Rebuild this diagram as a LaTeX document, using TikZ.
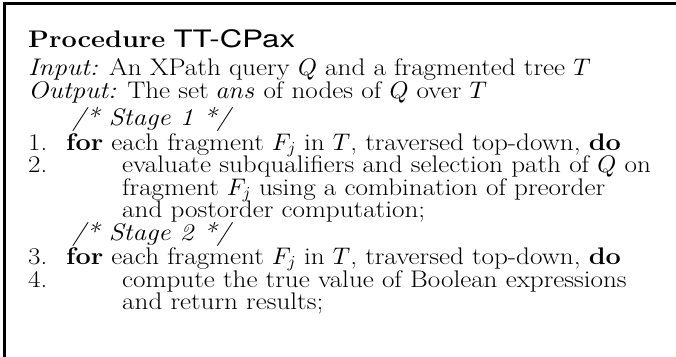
\documentclass[tikz,border=0pt]{standalone}
\usepackage{fontspec}
\setmainfont{Latin Modern Roman}[FakeStretch=1.13]
\newfontfamily\heros{TeX Gyre Heros}[FakeStretch=1.3]
\DeclareFontFamily{OML}{cmm}{\skewchar\font'177}
\DeclareFontShape{OML}{cmm}{m}{it}{<-8>cmmi7<8->cmmi10}{}
\begin{document}
\begin{tikzpicture}[x=1pt,y=-1pt,
  txt/.style={anchor=base west, inner sep=0pt, font=\fontsize{24}{24}\selectfont},
  frame/.style={line width=3pt, line cap=rect}]
\useasboundingbox (0,0) rectangle (676,356);
\coordinate (fb) at (4.5,356);
\coordinate (fc) at (4.5,3);
\coordinate (fr) at (676,3);
\draw[frame] (fb) -- (fc) -- (fr);
\node[txt] (title) at (28,47) {\textbf{Procedure} {\heros TT-CPax}};
\node[txt] (in) at (28,75) {\textit{Input:} An XPath query $Q$ and a fragmented tree $T$};
\node[txt] (out) at (28,98) {\textit{Output:} The set $ans$ of nodes of $Q$ over $T$};
\node[txt] (s1) at (72,125) {\textit{/* Stage 1 */}};
\node[txt] (n1) at (28,150) {1.};
\node[txt] (l1) at (66,150) {\textbf{for} each fragment $F_j$ in $T$, traversed top-down, \textbf{do}};
\node[txt] (n2) at (28,172) {2.};
\node[txt] (l2) at (122,172) {evaluate subqualifiers and selection path of $Q$ on};
\node[txt] (l2b) at (122,195) {fragment $F_j$ using a combination of preorder};
\node[txt] (l2c) at (122,217) {and postorder computation;};
\node[txt] (s2) at (72,240) {\textit{/* Stage 2 */}};
\node[txt] (n3) at (28,264) {3.};
\node[txt] (l3) at (66,264) {\textbf{for} each fragment $F_j$ in $T$, traversed top-down, \textbf{do}};
\node[txt] (n4) at (28,287) {4.};
\node[txt] (l4) at (122,287) {compute the true value of Boolean expressions};
\node[txt] (l4b) at (122,309) {and return results;};
\end{tikzpicture}
\end{document}
